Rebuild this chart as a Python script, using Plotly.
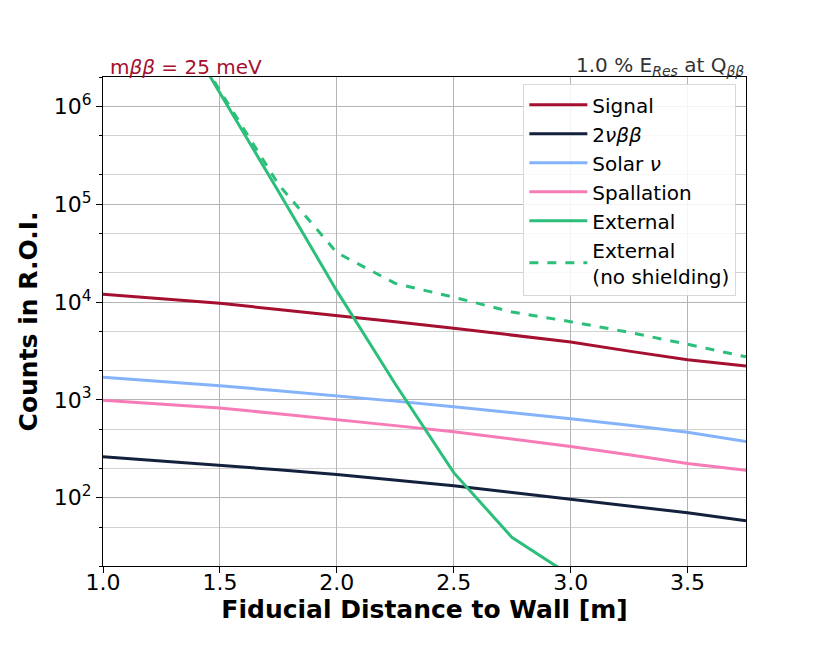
import plotly.graph_objects as go

# fiducial distance to wall [m]
distance = [1.0, 1.25, 1.5, 1.75, 2.0, 2.25, 2.5, 2.75, 3.0, 3.25, 3.5, 3.75]

# counts in R.O.I. for each component
signal = [1.2e4, 1.08e4, 9.7e3, 8.4e3, 7.3e3, 6.3e3, 5.4e3, 4.6e3, 3.9e3, 3.15e3, 2.57e3, 2.22e3]
two_nu = [262, 238, 216, 193, 172, 150, 132, 113, 96, 82, 70, 58]
solar = [1700, 1540, 1390, 1240, 1100, 970, 850, 740, 640, 550, 465, 375]
spallation = [990, 900, 825, 720, 630, 545, 472, 400, 334, 275, 223, 191]
external = [1.4e8, 1.4e7, 1.37e6, 1.36e5, 1.3e4, 1.45e3, 180, 39, 16, 7, 3, 1.3]
external_noshield = [1.4e8, 1.4e7, 1.45e6, 1.6e5, 3.2e4, 1.55e4, 1.12e4, 7.9e3, 6.3e3, 4.9e3, 3.7e3, 2.75e3]

y_tickvals = [1e2, 1e3, 1e4, 1e5, 1e6]
y_ticktext = ["10<sup>2</sup>", "10<sup>3</sup>", "10<sup>4</sup>", "10<sup>5</sup>", "10<sup>6</sup>"]
x_tickvals = [1.0, 1.5, 2.0, 2.5, 3.0, 3.5]

FONT = "DejaVu Sans, Verdana, sans-serif"

series = [
    ("Signal", signal, "#a50f30", "solid"),
    ("2<i>νββ</i>", two_nu, "#14213d", "solid"),
    ("Solar <i>ν</i>", solar, "#84b3fb", "solid"),
    ("Spallation", spallation, "#f67bb6", "solid"),
    ("External", external, "#2cbf7b", "solid"),
    ("External<br>(no shielding)", external_noshield, "#2cbf7b", "dash"),
]

fig = go.Figure()
for name, vals, color, dash in series:
    fig.add_trace(go.Scatter(
        x=distance, y=vals, mode="lines", name=name,
        line=dict(color=color, width=3, dash=dash),
    ))

# page body adds an 8px offset, margins compensate for it
fig.update_layout(
    width=830, height=646,
    margin=dict(l=95, r=92, t=69, b=88),
    plot_bgcolor="white", paper_bgcolor="white",
    font=dict(family=FONT, color="black"),
    legend=dict(
        x=0.985, y=0.985, xanchor="right", yanchor="top",
        bgcolor="rgba(255,255,255,0.85)", bordercolor="#d8d8d8", borderwidth=1,
        font=dict(size=20, family=FONT), itemwidth=58,
    ),
    xaxis=dict(
        range=[1.0, 3.75], tickvals=x_tickvals, ticktext=[f"{v:.1f}" for v in x_tickvals],
        ticks="outside", ticklen=6, tickcolor="black", ticklabelstandoff=-10,
        showline=True, mirror=True, linecolor="black", linewidth=1.2,
        showgrid=True, gridcolor="#b4b4b4", gridwidth=1,
        tickfont=dict(size=22), automargin=False,
        title=dict(text="<b>Fiducial Distance to Wall [m]</b>", font=dict(size=25), standoff=6),
        zeroline=False,
    ),
    yaxis=dict(
        type="log", range=[1.30103, 6.30103],
        tickvals=y_tickvals, ticktext=y_ticktext,
        ticks="outside", ticklen=6, tickcolor="black",
        showline=True, mirror=True, linecolor="black", linewidth=1.2,
        showgrid=True, gridcolor="#b4b4b4", gridwidth=1,
        minor=dict(ticks="outside", ticklen=3, tickcolor="black", showgrid=True,
                   gridcolor="#d2d2d2", gridwidth=1),
        tickfont=dict(size=22), automargin=False,
        title=dict(text="<b>Counts in R.O.I.</b>", font=dict(size=25), standoff=8),
        zeroline=False,
    ),
)

fig.add_annotation(
    xref="paper", yref="paper", x=0.0, y=1.0, xanchor="left", yanchor="bottom",
    text="m<i>ββ</i> = 25 meV", showarrow=False,
    font=dict(size=20, color="#a50f30", family=FONT), yshift=-4, xshift=5,
)
fig.add_annotation(
    xref="paper", yref="paper", x=1.0, y=1.0, xanchor="right", yanchor="bottom",
    text="1.0 % E<sub><i>Res</i></sub> at Q<sub><i>ββ</i></sub>", showarrow=False,
    font=dict(size=20, color="#333333", family=FONT), yshift=-4,
)

fig.write_html("out.html")
